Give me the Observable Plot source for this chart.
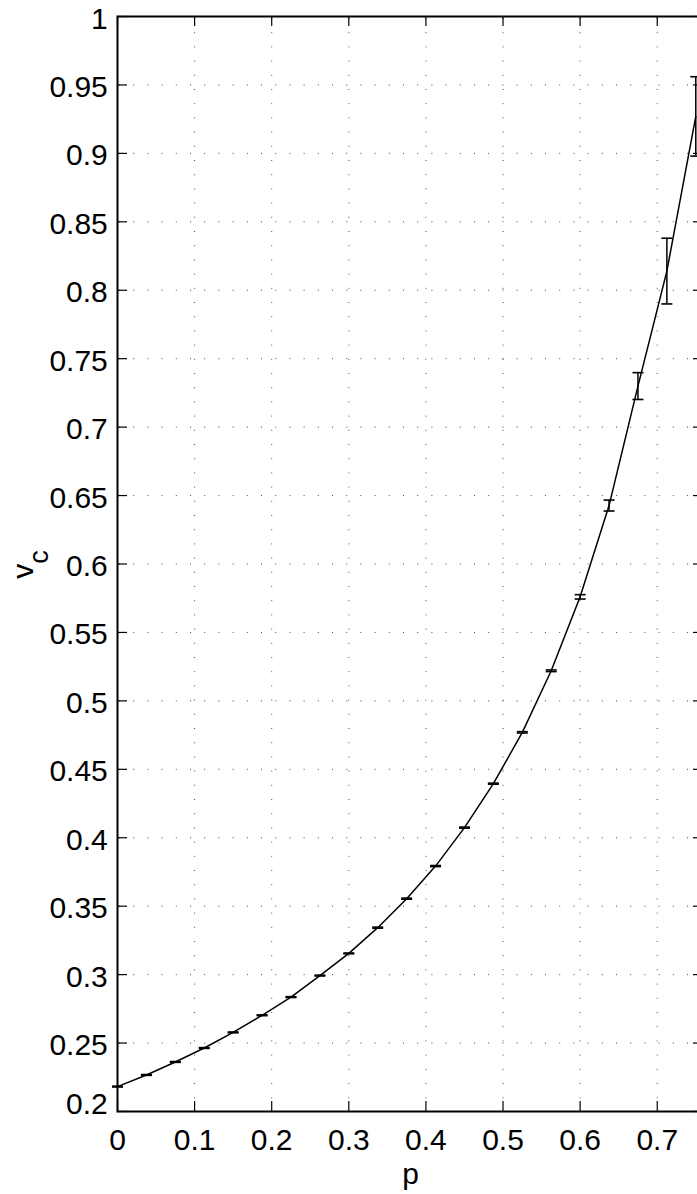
<!DOCTYPE html>
<html><head><meta charset="utf-8">
<script src="https://cdn.jsdelivr.net/npm/d3@7"></script>
<script src="https://cdn.jsdelivr.net/npm/@observablehq/plot@0.6"></script>
<style>html,body{margin:0;padding:0;background:#fff;overflow:hidden;} #chart{width:697px;height:1194px;overflow:hidden;} #chart svg{max-width:none !important;}</style>
</head><body><div id="chart"></div>
<script>
// Data
const p   = [0, 0.0375, 0.075, 0.1125, 0.15, 0.1875, 0.225, 0.2625, 0.3, 0.3375, 0.375, 0.4125, 0.45, 0.4875, 0.525, 0.5625, 0.6, 0.6375, 0.675, 0.7125, 0.75];
const vc  = [0.2182, 0.2267, 0.2362, 0.2464, 0.2578, 0.2703, 0.2836, 0.2993, 0.3155, 0.3343, 0.3555, 0.3793, 0.4074, 0.4395, 0.4770, 0.5220, 0.5760, 0.6427, 0.7300, 0.8140, 0.9270];
const err = [0.0003, 0.0003, 0.0003, 0.0003, 0.0003, 0.0003, 0.0003, 0.0003, 0.0003, 0.0004, 0.0004, 0.0004, 0.0004, 0.0004, 0.0005, 0.0006, 0.0016, 0.0040, 0.0098, 0.0240, 0.0290];

const xTicks = [0, 0.1, 0.2, 0.3, 0.4, 0.5, 0.6, 0.7];
const xTickLabels = ["0", "0.1", "0.2", "0.3", "0.4", "0.5", "0.6", "0.7"];
const yTicks = [0.2, 0.25, 0.3, 0.35, 0.4, 0.45, 0.5, 0.55, 0.6, 0.65, 0.7, 0.75, 0.8, 0.85, 0.9, 0.95, 1];
const yTickLabels = ["0.2", "0.25", "0.3", "0.35", "0.4", "0.45", "0.5", "0.55", "0.6", "0.65", "0.7", "0.75", "0.8", "0.85", "0.9", "0.95", "1"];

const data = p.map((x, i) => ({p: x, v: vc[i], lo: vc[i] - err[i], hi: vc[i] + err[i]}));
const xt = xTicks.map((t, i) => ({t, label: xTickLabels[i]}));
const yt = yTicks.map((t, i) => ({t, label: yTickLabels[i]}));

const W = 720, H = 1194, ML = 117, MR = 17, MT = 16, MB = 83;
const frameW = W - ML - MR, frameH = H - MT - MB;
const TICK = 10;

const capSymbol = {
  draw(ctx) { ctx.moveTo(-5.5, 0); ctx.lineTo(5.5, 0); }
};

const grid = {stroke: "#000", strokeOpacity: 0.7, strokeWidth: 1, strokeDasharray: "1,13.2", strokeDashoffset: -2};

const chart = Plot.plot({
  width: W, height: H,
  marginLeft: ML, marginRight: MR, marginTop: MT, marginBottom: MB,
  x: {domain: [0, 0.76], axis: null},
  y: {domain: [0.2, 1], axis: null},
  style: {fontFamily: "'Liberation Sans', Arial, Helvetica, sans-serif", fontSize: "30px", background: "#fff", overflow: "hidden", maxWidth: "none"},
  marks: [
    Plot.ruleX(xt.filter(d => d.t > 0), {x: "t", ...grid}),
    Plot.ruleY(yt.filter(d => d.t > 0.2 && d.t < 1), {y: "t", ...grid}),
    // inward tick marks
    Plot.tickX(xt, {x: "t", stroke: "#000", strokeWidth: 1.2, insetTop: frameH - TICK}),
    Plot.tickX(xt, {x: "t", stroke: "#000", strokeWidth: 1.2, insetBottom: frameH - TICK}),
    Plot.tickY(yt, {y: "t", stroke: "#000", strokeWidth: 1.2, insetRight: frameW - TICK}),
    Plot.tickY(yt, {y: "t", stroke: "#000", strokeWidth: 1.2, insetLeft: frameW - TICK}),
    Plot.frame({stroke: "#000", strokeWidth: 2}),
    // curve
    Plot.line(data, {x: "p", y: "v", stroke: "#000", strokeWidth: 1.5}),
    // error bars
    Plot.ruleX(data, {x: "p", y1: "lo", y2: "hi", stroke: "#000", strokeWidth: 1.5}),
    Plot.dot(data, {x: "p", y: "lo", symbol: capSymbol, fill: "none", stroke: "#000", strokeWidth: 1.6}),
    Plot.dot(data, {x: "p", y: "hi", symbol: capSymbol, fill: "none", stroke: "#000", strokeWidth: 1.6}),
    // tick labels
    Plot.text(xt, {x: "t", text: "label", frameAnchor: "bottom", lineAnchor: "middle", textAnchor: "middle", dy: 28.7, fill: "#000", fontSize: 30}),
    Plot.text(yt.filter(d => d.t > 0.2), {y: "t", text: "label", frameAnchor: "left", lineAnchor: "middle", textAnchor: "end", dx: -9.7, dy: 2.4, fill: "#000", fontSize: 30}),
    Plot.text(yt.filter(d => d.t === 0.2), {y: "t", text: "label", frameAnchor: "left", lineAnchor: "middle", textAnchor: "end", dx: -9.7, dy: -7.6, fill: "#000", fontSize: 30}),
    // x axis label
    Plot.text(["p"], {x: [0.38], text: d => d, frameAnchor: "bottom", lineAnchor: "middle", textAnchor: "middle", dy: 63, fill: "#000", fontSize: 30})
  ]
});
chart.style.maxWidth = "none";
chart.setAttribute("width", W);
chart.setAttribute("height", H);

// y axis label v_c (with subscript)
const svg = d3.select(chart);
const lab = svg.append("text")
  .attr("transform", `translate(33,564.5) rotate(-90)`)
  .attr("text-anchor", "middle")
  .attr("font-family", "'Liberation Sans', Arial, Helvetica, sans-serif")
  .attr("font-size", 30)
  .attr("fill", "#000");
lab.append("tspan").text("v");
lab.append("tspan").attr("dy", 15).attr("font-size", 27).text("c");

document.getElementById("chart").appendChild(chart);
</script>
</body></html>
